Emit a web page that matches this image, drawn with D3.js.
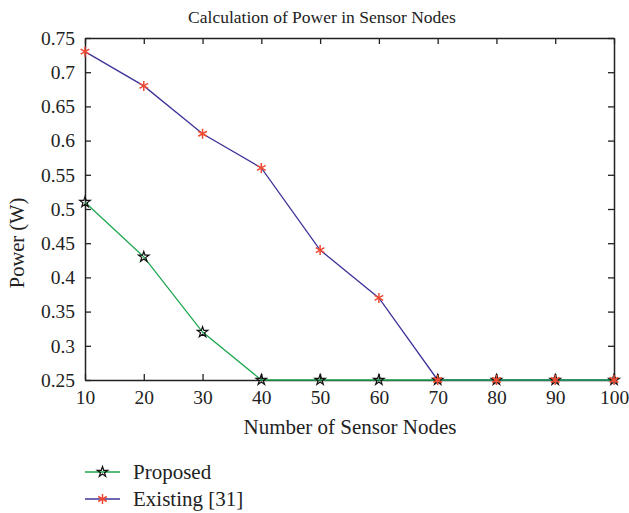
<!DOCTYPE html>
<html>
<head>
<meta charset="utf-8">
<script src="https://cdn.jsdelivr.net/npm/d3@7"></script>
<style>
  body { margin: 0; background: #fff; }
  text { font-family: "Liberation Serif", "DejaVu Serif", serif; fill: #222; }
</style>
</head>
<body>
<div id="chart"></div>
<script>
// data
const nodes = [10, 20, 30, 40, 50, 60, 70, 80, 90, 100];
const proposed = [0.51, 0.43, 0.32, 0.25, 0.25, 0.25, 0.25, 0.25, 0.25, 0.25];
const existing = [0.73, 0.68, 0.61, 0.56, 0.44, 0.37, 0.25, 0.25, 0.25, 0.25];
const yTicks = [0.25, 0.3, 0.35, 0.4, 0.45, 0.5, 0.55, 0.6, 0.65, 0.7, 0.75];

const width = 629, height = 513;
const margin = { left: 85, right: 15, top: 38, bottom: 133 };

const svg = d3.select("#chart").append("svg")
    .attr("width", width)
    .attr("height", height);

const x = d3.scaleLinear().domain([10, 100]).range([margin.left, width - margin.right]);
const y = d3.scaleLinear().domain([0.25, 0.75]).range([height - margin.bottom, margin.top]);

const fmt = d => String(+d.toFixed(2));

// axes with inward ticks on all sides
svg.append("g")
    .attr("transform", `translate(0,${y(0.25)})`)
    .call(d3.axisBottom(x).tickValues(nodes).tickSizeInner(-6).tickSizeOuter(0).tickPadding(10))
    .call(g => g.selectAll("text").attr("font-size", 19.5));
svg.append("g")
    .attr("transform", `translate(0,${y(0.75)})`)
    .call(d3.axisTop(x).tickValues(nodes).tickSizeInner(-6).tickSizeOuter(0).tickFormat(""));
svg.append("g")
    .attr("transform", `translate(${x(10)},0)`)
    .call(d3.axisLeft(y).tickValues(yTicks).tickSizeInner(-6).tickSizeOuter(0).tickPadding(10).tickFormat(fmt))
    .call(g => g.selectAll("text").attr("font-size", 19.5));
svg.append("g")
    .attr("transform", `translate(${x(100)},0)`)
    .call(d3.axisRight(y).tickValues(yTicks).tickSizeInner(-6).tickSizeOuter(0).tickFormat(""));

svg.selectAll(".domain").attr("stroke", "#222").attr("stroke-width", 1.5);
svg.selectAll(".tick line").attr("stroke", "#222").attr("stroke-width", 1.3);
svg.selectAll(".tick text").attr("fill", "#222");

// lines
const line = vals => d3.line().x((d, i) => x(nodes[i])).y(d => y(d))(vals);

svg.append("path").attr("d", line(existing))
    .attr("fill", "none").attr("stroke", "#3c3399").attr("stroke-width", 1.3);
svg.append("path").attr("d", line(proposed))
    .attr("fill", "none").attr("stroke", "#1ea650").attr("stroke-width", 1.3);

const star = d3.symbol().type(d3.symbolStar).size(34);
const asterisk = "M0,-5V5M-4.3,-2.5L4.3,2.5M-4.3,2.5L4.3,-2.5";

svg.append("g").selectAll("path")
    .data(proposed)
    .join("path")
    .attr("d", star)
    .attr("transform", (d, i) => `translate(${x(nodes[i])},${y(d)})`)
    .attr("fill", "none").attr("stroke", "#111").attr("stroke-width", 1.2);

svg.append("g").selectAll("path")
    .data(existing)
    .join("path")
    .attr("d", asterisk)
    .attr("transform", (d, i) => `translate(${x(nodes[i])},${y(d)})`)
    .attr("fill", "none").attr("stroke", "#f04a32").attr("stroke-width", 1.5);

// titles
svg.append("text")
    .attr("x", 322).attr("y", 23)
    .attr("text-anchor", "middle").attr("font-size", 17.5)
    .text("Calculation of Power in Sensor Nodes");
svg.append("text")
    .attr("x", 350).attr("y", 434)
    .attr("text-anchor", "middle").attr("font-size", 21)
    .text("Number of Sensor Nodes");
svg.append("text")
    .attr("transform", `translate(24,${(y(0.25) + y(0.75)) / 2 + 34}) rotate(-90)`)
    .attr("text-anchor", "middle").attr("font-size", 20.5)
    .text("Power (W)");

// legend
const legendItems = [
    { name: "Proposed", color: "#1ea650", marker: "star" },
    { name: "Existing [31]", color: "#3c3399", marker: "ast" }
];
const lg = svg.append("g").selectAll("g")
    .data(legendItems)
    .join("g")
    .attr("transform", (d, i) => `translate(85,${472 + i * 27})`);
lg.append("line").attr("x1", 0).attr("x2", 35)
    .attr("stroke", d => d.color).attr("stroke-width", 1.3);
lg.append("path")
    .attr("transform", "translate(17.5,0)")
    .attr("d", d => d.marker === "star" ? star() : asterisk)
    .attr("fill", "none")
    .attr("stroke", d => d.marker === "star" ? "#111" : "#f04a32")
    .attr("stroke-width", d => d.marker === "star" ? 1.2 : 1.5);
lg.append("text").attr("x", 48).attr("dy", "0.35em").attr("font-size", 21)
    .text(d => d.name);
</script>
</body>
</html>
